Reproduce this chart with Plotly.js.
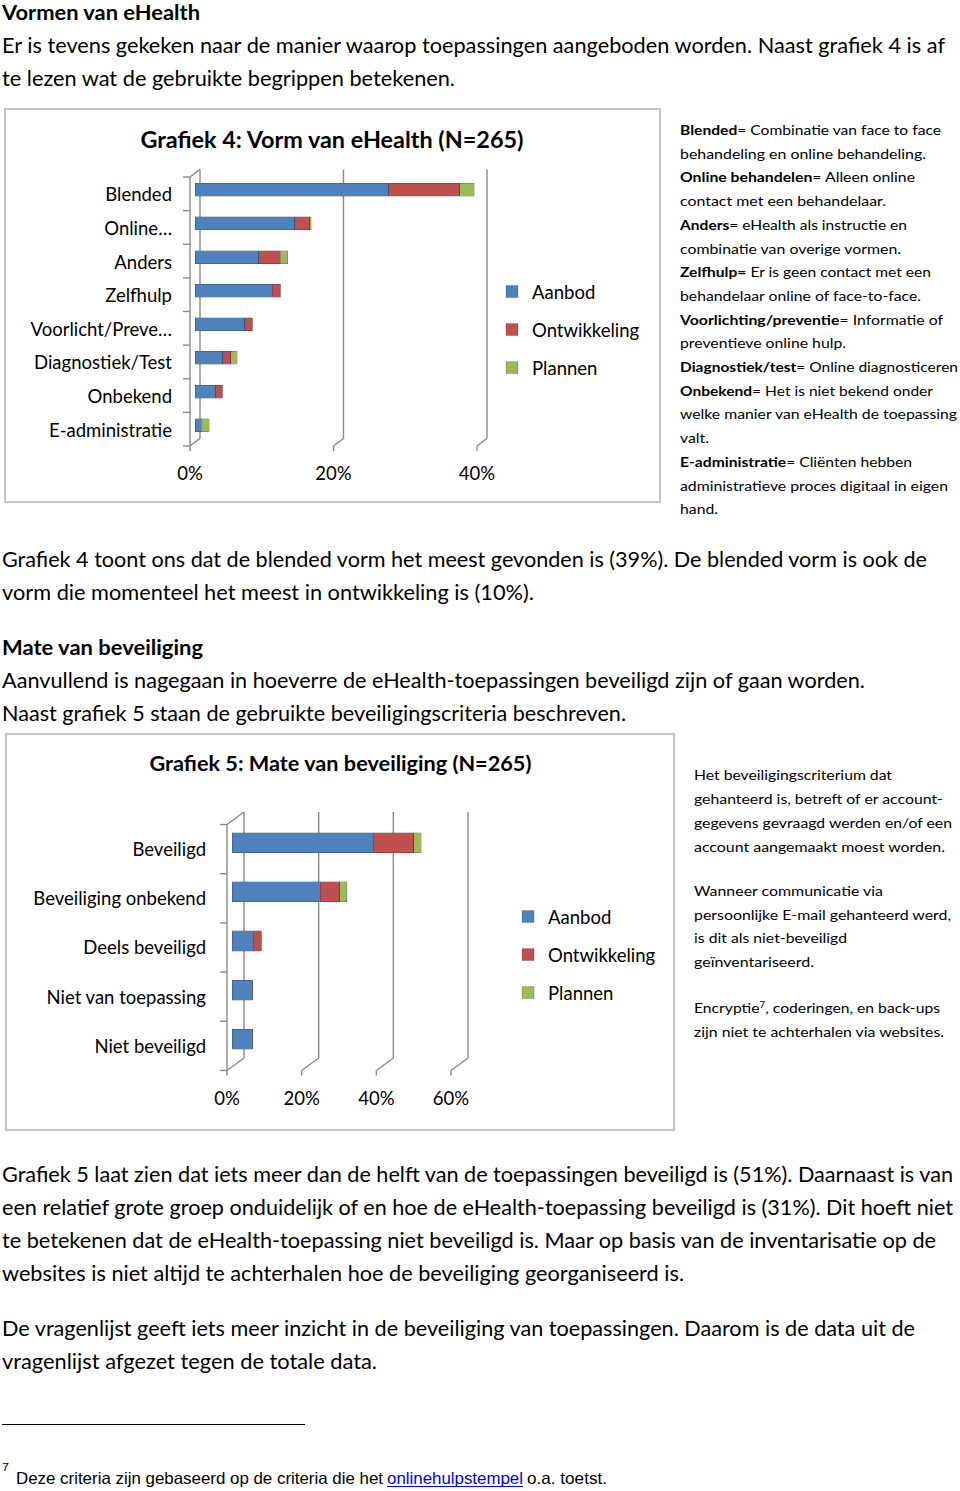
<!DOCTYPE html>
<html><head><meta charset="utf-8">
<script src="https://cdn.plot.ly/plotly-3.0.1.min.js"></script>
<style>
html,body{margin:0;padding:0;background:#fff;}
#page{position:relative;width:960px;height:1491px;overflow:hidden;background:#fff;}
#txt{position:absolute;left:0;top:0;}
.frame{position:absolute;border:2px solid #c4c4c4;box-sizing:border-box;}
.chart{position:absolute;}
</style></head><body>
<div id="page">
<svg id="txt" width="960" height="1491" xmlns="http://www.w3.org/2000/svg"></svg>
<div class="frame" style="left:4px;top:108px;width:657px;height:395px"></div>
<div id="c1" class="chart" style="left:4px;top:108px;width:657px;height:395px"></div>
<div class="frame" style="left:5px;top:733px;width:670px;height:398px"></div>
<div id="c2" class="chart" style="left:5px;top:733px;width:670px;height:398px"></div>
</div>
<script>
// ---------- DATA ----------
const seriesNames = ['Aanbod', 'Ontwikkeling', 'Plannen'];
const seriesColors = ['#4F81BD', '#C0504D', '#9BBB59'];

const title1 = 'Grafiek 4: Vorm van eHealth (N=265)';
const cats1 = ['Blended', 'Online…', 'Anders', 'Zelfhulp', 'Voorlicht/Preve…', 'Diagnostiek/Test', 'Onbekend', 'E-administratie'];
const aanbod1 = [27.0, 13.9, 8.9, 10.8, 6.9, 3.9, 2.9, 0.9];
const ontw1 = [9.9, 2.1, 3.0, 1.1, 1.1, 1.1, 0.9, 0];
const plannen1 = [2.0, 0.2, 1.0, 0, 0, 0.9, 0, 1.1];
const tickVals1 = [0, 20, 40];
const tickLabels1 = ['0%', '20%', '40%'];

const title2 = 'Grafiek 5: Mate van beveiliging (N=265)';
const cats2 = ['Beveiligd', 'Beveiliging onbekend', 'Deels beveiligd', 'Niet van toepassing', 'Niet beveiligd'];
const aanbod2 = [37.8, 23.6, 5.7, 5.4, 5.4];
const ontw2 = [10.9, 5.2, 2.2, 0, 0];
const plannen2 = [2.0, 2.0, 0, 0, 0];
const tickVals2 = [0, 20, 40, 60];
const tickLabels2 = ['0%', '20%', '40%', '60%'];

// ---------- TEXT ----------
const NS = 'http://www.w3.org/2000/svg';
const svg = document.getElementById('txt');
function addText(segs, x0, x1, base, size, family, color) {
  const t = document.createElementNS(NS, 'text');
  t.setAttribute('x', x0); t.setAttribute('y', base);
  t.setAttribute('font-family', family || 'Lato');
  t.setAttribute('font-size', size);
  t.setAttribute('fill', color || '#000');
  t.setAttribute('textLength', x1 - x0);
  t.setAttribute('lengthAdjust', 'spacingAndGlyphs');
  segs.forEach(s => {
    const ts = document.createElementNS(NS, 'tspan');
    ts.textContent = s[0];
    if (s[1] === 'b') ts.setAttribute('font-weight', '700');
    if (s[1] === 'sup') { ts.setAttribute('font-size', size * 0.62); ts.setAttribute('baseline-shift', 'super'); }
    t.appendChild(ts);
  });
  svg.appendChild(t);
}
const body = [
  [[['Vormen van eHealth', 'b']], 2, 200, 19.5],
  [[['Er is tevens gekeken naar de manier waarop toepassingen aangeboden worden. Naast grafiek 4 is af']], 2, 945, 52.5],
  [[['te lezen wat de gebruikte begrippen betekenen.']], 2, 455, 85.5],
  [[['Grafiek 4 toont ons dat de blended vorm het meest gevonden is (39%). De blended vorm is ook de']], 2, 927, 567],
  [[['vorm die momenteel het meest in ontwikkeling is (10%).']], 2, 534, 600],
  [[['Mate van beveiliging', 'b']], 2, 203, 655],
  [[['Aanvullend is nagegaan in hoeverre de eHealth-toepassingen beveiligd zijn of gaan worden.']], 2, 865, 688],
  [[['Naast grafiek 5 staan de gebruikte beveiligingscriteria beschreven.']], 2, 626, 721],
  [[['Grafiek 5 laat zien dat iets meer dan de helft van de toepassingen beveiligd is (51%). Daarnaast is van']], 2, 953, 1182],
  [[['een relatief grote groep onduidelijk of en hoe de eHealth-toepassing beveiligd is (31%). Dit hoeft niet']], 2, 953, 1215],
  [[['te betekenen dat de eHealth-toepassing niet beveiligd is. Maar op basis van de inventarisatie op de']], 2, 936, 1248],
  [[['websites is niet altijd te achterhalen hoe de beveiliging georganiseerd is.']], 2, 684, 1281],
  [[['De vragenlijst geeft iets meer inzicht in de beveiliging van toepassingen. Daarom is de data uit de']], 2, 915, 1336],
  [[['vragenlijst afgezet tegen de totale data.']], 2, 377, 1369]
];
body.forEach(l => addText(l[0], l[1], l[2], l[3], 21));

const side1 = [
  [[['Blended', 'b'], ['= Combinatie van face to face']], 941],
  [[['behandeling en online behandeling.']], 926],
  [[['Online behandelen', 'b'], ['= Alleen online']], 915],
  [[['contact met een behandelaar.']], 886],
  [[['Anders', 'b'], ['= eHealth als instructie en']], 907],
  [[['combinatie van overige vormen.']], 901],
  [[['Zelfhulp=', 'b'], [' Er is geen contact met een']], 931],
  [[['behandelaar online of face-to-face.']], 921],
  [[['Voorlichting/preventie', 'b'], ['= Informatie of']], 943],
  [[['preventieve online hulp.']], 846],
  [[['Diagnostiek/test', 'b'], ['= Online diagnosticeren']], 958],
  [[['Onbekend', 'b'], ['= Het is niet bekend onder']], 933],
  [[['welke manier van eHealth de toepassing']], 957],
  [[['valt.']], 709],
  [[['E-administratie', 'b'], ['= Cliënten hebben']], 912],
  [[['administratieve proces digitaal in eigen']], 948],
  [[['hand.']], 718]
];
side1.forEach((l, i) => addText(l[0], 680, l[1], 135 + i * 23.7, 14));

const side2 = [
  [[['Het beveiligingscriterium dat']], 892, 780],
  [[['gehanteerd is, betreft of er account-']], 943, 804],
  [[['gegevens gevraagd werden en/of een']], 952, 828],
  [[['account aangemaakt moest worden.']], 945, 852],
  [[['Wanneer communicatie via']], 883, 896],
  [[['persoonlijke E-mail gehanteerd werd,']], 951, 920],
  [[['is dit als niet-beveiligd']], 847, 943],
  [[['geïnventariseerd.']], 814, 967],
  [[['Encryptie'], ['7', 'sup'], [', coderingen, en back-ups']], 940, 1013],
  [[['zijn niet te achterhalen via websites.']], 944, 1037]
];
side2.forEach(l => addText(l[0], 694, l[1], l[2], 14));

// footnote
(function () {
  const r = document.createElementNS(NS, 'line');
  r.setAttribute('x1', 2); r.setAttribute('x2', 305); r.setAttribute('y1', 1424.5); r.setAttribute('y2', 1424.5);
  r.setAttribute('stroke', '#000'); r.setAttribute('stroke-width', 1);
  svg.appendChild(r);
  addText([['7']], 2, 9, 1471, 11, 'Liberation Sans');
  addText([['Deze criteria zijn gebaseerd op de criteria die het']], 16, 383, 1484, 16.5, 'Liberation Sans');
  addText([['onlinehulpstempel']], 387, 523, 1484, 16.5, 'Liberation Sans', '#0000EE');
  addText([['o.a. toetst.']], 527, 607, 1484, 16.5, 'Liberation Sans');
  const u = document.createElementNS(NS, 'line');
  u.setAttribute('x1', 387); u.setAttribute('x2', 523); u.setAttribute('y1', 1486.5); u.setAttribute('y2', 1486.5);
  u.setAttribute('stroke', '#0000EE'); u.setAttribute('stroke-width', 1);
  svg.appendChild(u);
})();

// ---------- CHARTS ----------
function makeChart(id, c) {
  const ph = c.H - c.t - c.b;
  const pw = c.W - c.l - c.r;
  const gc = '#8a8a8a';
  // paper fraction of a value on the x axis, plus pixel offset
  const fx = (v, dpx) => (v - c.range[0]) / (c.range[1] - c.range[0]) + dpx / pw;
  const fy = (f, dpx) => f + dpx / ph;
  function seg(v, x0, x1, f0, y0, f1, y1) {
    return {type: 'line', xref: 'paper', yref: 'paper',
      x0: fx(v, x0), x1: fx(v, x1), y0: fy(f0, y0), y1: fy(f1, y1),
      line: {color: gc, width: 1.4}, layer: 'below'};
  }
  const shapes = [];
  c.ticks.forEach(v => {
    shapes.push(seg(v, c.bdx, c.bdx, 0, c.bdy, 1, c.bdy));          // back wall gridline
    shapes.push(seg(v, c.fdx, c.bdx, 0, c.fdy, 0, c.bdy));          // floor diagonal
    shapes.push(seg(v, c.fdx, c.fdx, 0, c.fdy, 0, c.fdy - 5));      // front tick
  });
  shapes.push(seg(0, c.fdx, c.fdx, 0, c.fdy, 1, c.fdy));            // front left axis
  shapes.push(seg(0, c.fdx, c.bdx, 1, c.fdy, 1, c.bdy));            // top-left diagonal
  const n = c.cats.length;
  for (let k = 0; k <= n; k++) {
    shapes.push(seg(0, c.fdx - 7, c.fdx, k / n, c.fdy, k / n, c.fdy));
  }
  const traces = c.vals.map((v, i) => ({
    type: 'bar', orientation: 'h', y: c.cats, x: v, name: seriesNames[i],
    marker: {color: seriesColors[i], line: {color: 'rgba(0,0,0,0.22)', width: 0.8}},
    width: c.barW, legendgroup: 'g' + i, hoverinfo: 'skip'
  }));
  const layout = {
    width: c.W, height: c.H,
    margin: {l: c.l, r: c.r, t: c.t, b: c.b, pad: 0, autoexpand: false},
    paper_bgcolor: 'rgba(0,0,0,0)', plot_bgcolor: 'rgba(0,0,0,0)',
    barmode: 'stack',
    font: {family: 'Lato', size: 18.5, color: '#000'},
    title: {text: c.title, font: {family: 'Lato', size: c.titleSize, weight: 700, color: '#000'},
      x: c.titleX, xref: 'container', xanchor: 'center', y: c.titleY, yref: 'container', yanchor: 'middle'},
    xaxis: {range: c.range, showgrid: false, zeroline: false, showline: false,
      tickvals: c.ticks, ticktext: c.tickLabels, ticks: '', ticklabelshift: c.fdx,
      ticklabelstandoff: c.xs, automargin: false, fixedrange: true},
    yaxis: {type: 'category', categoryarray: c.cats, categoryorder: 'array', autorange: 'reversed',
      showgrid: false, zeroline: false, showline: false, ticks: '',
      ticklabelstandoff: c.ys, ticklabelshift: c.yshift, automargin: false, fixedrange: true},
    legend: {xref: 'container', yref: 'container', x: c.lx, y: c.ly, xanchor: 'left', yanchor: 'top',
      traceorder: 'grouped', tracegroupgap: c.lgap, font: {family: 'Lato', size: 18.5, color: '#000'},
      bgcolor: 'rgba(0,0,0,0)', borderwidth: 0},
    showlegend: true,
    shapes: shapes
  };
  Plotly.newPlot(id, traces, layout, {staticPlot: true, displayModeBar: false});
}

makeChart('c1', {
  cats: cats1, vals: [aanbod1, ontw1, plannen1], ticks: tickVals1, tickLabels: tickLabels1,
  title: title1, titleSize: 23.4, W: 657, H: 395, l: 190.5, r: 178.9, t: 65.2, b: 61, range: [0, 40],
  barW: 0.39, fdx: -5, fdy: -4, bdx: 5, bdy: 3.6, xs: 18, ys: 22, yshift: -5,
  titleX: 0.4992, titleY: 0.919, lx: 0.7428, ly: 0.5823, lgap: 11
});
makeChart('c2', {
  cats: cats2, vals: [aanbod2, ontw2, plannen2], ticks: tickVals2, tickLabels: tickLabels2,
  title: title2, titleSize: 21.7, W: 670, H: 398, l: 227, r: 218.9, t: 85.1, b: 67.3, range: [0, 60],
  barW: 0.41, fdx: -5, fdy: -6.5, bdx: 12, bdy: 6, xs: 21, ys: 25, yshift: -7,
  titleX: 0.5007, titleY: 0.9246, lx: 0.7508, ly: 0.5855, lgap: 11
});
</script>
</body></html>
